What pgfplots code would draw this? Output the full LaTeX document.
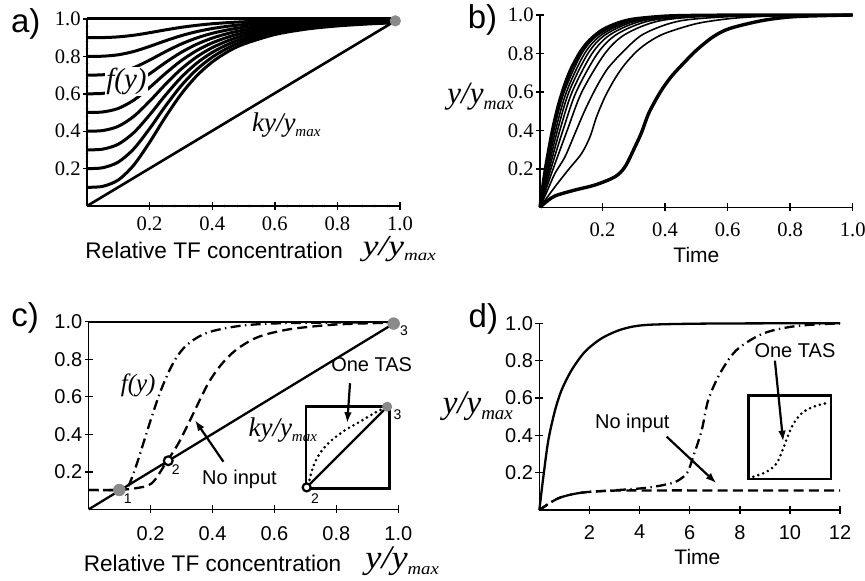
\documentclass[border=0pt]{standalone}
\usepackage{fontspec}
\setmainfont{Liberation Sans}
\newfontfamily\serif{Liberation Serif}
\usepackage{pgfplots}
\usepackage{pgfplotstable}
\pgfplotsset{compat=1.18}
\usetikzlibrary{arrows.meta}
\definecolor{dotgray}{RGB}{138,138,138}
\newcommand{\fs}[1]{\fontsize{#1}{#1}\selectfont}
\newcommand{\yratio}[4]{{\serif\itshape\fs{#1}#4\raisebox{-#3}{\fs{#2}max}}}

% panel a: f(y) for basal levels 0.1 ... 0.9
\pgfplotstableread{
x f1 f2 f3 f4 f5 f6 f7 f8 f9
0 0.1 0.2 0.3 0.4 0.5 0.6 0.7 0.8 0.9
0.05 .1051 .2046 .3040 .4034 .5029 .6023 .7017 .8011 .9006
0.1 .1392 .2349 .3305 .4262 .5218 .6174 .7131 .8087 .9044
0.15 .2200 .3066 .3933 .4800 .5667 .6533 .7400 .8267 .9133
0.2 .3404 .4137 .4870 .5603 .6336 .7068 .7801 .8534 .9267
0.25 .4742 .5326 .5911 .6495 .7079 .7663 .8247 .8832 .9416
0.3 .5964 .6413 .6861 .7310 .7758 .8206 .8655 .9103 .9552
0.35 .6953 .7291 .7630 .7968 .8307 .8646 .8984 .9323 .9661
0.4 .7701 .7957 .8212 .8468 .8723 .8978 .9234 .9489 .9745
0.45 .8253 .8447 .8641 .8835 .9030 .9224 .9418 .9612 .9806
0.5 .8655 .8805 .8954 .9104 .9253 .9402 .9552 .9701 .9851
0.6 .9169 .9262 .9354 .9446 .9539 .9631 .9723 .9815 .9908
0.7 .9458 .9518 .9579 .9639 .9699 .9759 .9819 .9880 .9940
0.8 .9630 .9671 .9712 .9753 .9795 .9836 .9877 .9918 .9959
0.9 .9737 .9766 .9796 .9825 .9854 .9883 .9912 .9942 .9971
0.985 .9798 .9820 .9843 .9865 .9888 .9910 .9933 .9955 .9978
}\tabA

\pgfplotsset{
  panel/.style={
    scale only axis, anchor=south west,
    axis x line=bottom, axis y line=left,
    axis line style={-, line width=0.7pt},
    xmin=0, ymin=0, ymax=1, clip=false,
    tick align=center, major tick length=4pt,
    every tick/.style={black, line width=0.7pt},
    /pgf/number format/assume math mode=true,
    ytick={0.2,0.4,0.6,0.8,1.0},
    yticklabel style={/pgf/number format/fixed, /pgf/number format/fixed zerofill, /pgf/number format/precision=1, inner sep=1pt},
  },
  unitx/.style={xmax=1, xtick={0.2,0.4,0.6,0.8,1.0},
    xticklabel style={/pgf/number format/fixed, /pgf/number format/fixed zerofill, /pgf/number format/precision=1}},
  serifticks/.style={tick label style={font=\serif\fs{10.3}}},
  sansticks/.style={tick label style={font=\fs{10}}},
  fcurve/.style={black, line width=1.5pt, smooth, mark=none},
  thinb/.style={black, line width=0.8pt, smooth, mark=none},
  thickb/.style={black, line width=1.7pt, smooth, mark=none},
  lc/.style={black, line width=1.15pt, mark=none},
  dotc/.style={black, line width=1.45pt, smooth, mark=none, line cap=round, dash pattern=on 0pt off 2.6pt},
  arr/.style={black, line width=1.1pt, mark=none, -{Latex[length=5.5pt,width=3.8pt]}},
  graydot/.style={only marks, mark=*, mark size=#1, mark options={draw=dotgray, fill=dotgray}},
  opendot/.style={only marks, mark=*, mark size=#1, mark options={draw=black, fill=white, line width=1.1pt}},
}

\begin{document}
\begin{tikzpicture}
\path[use as bounding box] (0,0) rectangle (432.5pt,290pt);

% ---------------- panel a ----------------
\begin{axis}[panel, unitx, serifticks, at={(43.5pt,187pt)}, width=156.5pt, height=93.5pt,
  minor x tick num=4, minor y tick num=4, minor tick length=1.6pt,
  every minor tick/.style={gray!35, line width=0.5pt},
  xticklabel style={yshift=0pt}]
\addplot[fcurve] coordinates {(0,1) (0.985,1)};
\addplot[fcurve] table[x=x,y=f1]{\tabA};
\addplot[fcurve] table[x=x,y=f2]{\tabA};
\addplot[fcurve] table[x=x,y=f3]{\tabA};
\addplot[fcurve] table[x=x,y=f4]{\tabA};
\addplot[fcurve] table[x=x,y=f5]{\tabA};
\addplot[fcurve] table[x=x,y=f6]{\tabA};
\addplot[fcurve] table[x=x,y=f7]{\tabA};
\addplot[fcurve] table[x=x,y=f8]{\tabA};
\addplot[fcurve] table[x=x,y=f9]{\tabA};
\addplot[black, line width=1.3pt, mark=none] coordinates {(0,0) (0.985,0.99)};
\addplot[graydot=2.6pt] coordinates {(0.985,0.99)};
\node[fill=white, inner sep=0.6pt] at (axis cs:0.126,0.665) {\serif\itshape\fs{14.5}f(y)};
\node[anchor=base west, inner sep=0pt] at (axis cs:0.526,0.397) {\yratio{13.5}{7.5}{2.5pt}{ky/y}};
\end{axis}

% ---------------- panel b ----------------
\begin{axis}[panel, unitx, serifticks, at={(270pt,186.35pt)}, width=156.35pt, height=96.15pt,
  xticklabel style={yshift=-2pt}]
\addplot[thickb] coordinates {(0,0) (0.015,0.022) (0.048,0.059) (0.112,0.09) (0.176,0.116) (0.24,0.159) (0.272,0.211) (0.304,0.315) (0.325,0.39) (0.348,0.49) (0.385,0.6) (0.42,0.68) (0.459,0.749) (0.501,0.818) (0.554,0.887) (0.607,0.93) (0.714,0.972) (0.82,0.992) (1,1)};
\addplot[thinb] coordinates {(0,0) (0.048,0.107) (0.09,0.194) (0.133,0.28) (0.16,0.367) (0.181,0.471) (0.208,0.575) (0.24,0.67) (0.272,0.745) (0.31,0.812) (0.35,0.862) (0.4,0.905) (0.5,0.955) (0.6,0.98) (0.7,0.992) (0.85,0.999) (1,1)};
\addplot[thinb] coordinates {(0,0) (0.027,0.1) (0.048,0.177) (0.08,0.263) (0.112,0.385) (0.144,0.506) (0.181,0.627) (0.213,0.714) (0.24,0.766) (0.26,0.8) (0.33,0.9) (0.45,0.97) (0.65,0.995) (0.85,1) (1,1)};
\addplot[thinb] coordinates {(0,0) (0.0206,0.1) (0.042,0.2) (0.087,0.4) (0.1338,0.6) (0.2077,0.8) (0.273,0.9) (0.383,0.97) (0.559,0.995) (0.85,1) (1,1)};
\addplot[thinb] coordinates {(0,0) (0.017,0.1) (0.0348,0.2) (0.0733,0.4) (0.1157,0.6) (0.1838,0.8) (0.246,0.9) (0.351,0.97) (0.516,0.995) (0.85,1) (1,1)};
\addplot[thinb] coordinates {(0,0) (0.0144,0.1) (0.0297,0.2) (0.0634,0.4) (0.1027,0.6) (0.1666,0.8) (0.2265,0.9) (0.328,0.97) (0.484,0.995) (0.85,1) (1,1)};
\addplot[thinb] coordinates {(0,0) (0.0124,0.1) (0.0257,0.2) (0.0558,0.4) (0.0926,0.6) (0.1533,0.8) (0.2115,0.9) (0.31,0.97) (0.46,0.995) (0.85,1) (1,1)};
\addplot[thinb] coordinates {(0,0) (0.0108,0.1) (0.0225,0.2) (0.0497,0.4) (0.0846,0.6) (0.1427,0.8) (0.1995,0.9) (0.296,0.97) (0.441,0.995) (0.85,1) (1,1)};
\addplot[thinb] coordinates {(0,0) (0.0094,0.1) (0.0198,0.2) (0.0444,0.4) (0.0775,0.6) (0.1335,0.8) (0.189,0.9) (0.284,0.97) (0.424,0.995) (0.85,1) (1,1)};
\addplot[thickb] coordinates {(0,0) (0.01,0.12) (0.02,0.226) (0.04,0.401) (0.06,0.537) (0.08,0.641) (0.1,0.722) (0.13,0.811) (0.16,0.871) (0.2,0.923) (0.25,0.959) (0.3,0.979) (0.4,0.994) (0.5,0.998) (0.7,1) (1,1)};
\end{axis}

% ---------------- panel c ----------------
\begin{axis}[panel, unitx, sansticks, at={(44.33pt,35.33pt)}, width=154.83pt, height=93.83pt,
  xticklabel style={yshift=-3pt}]
\addplot[lc] coordinates {(0,1) (0.985,1)};
\addplot[lc] coordinates {(0,0) (0.985,0.99)};
\addplot[lc, smooth, dash pattern=on 5pt off 2.6pt] coordinates {(0,0.103) (0.085,0.103) (0.15,0.112) (0.204,0.139) (0.252,0.254) (0.29,0.352) (0.333,0.494) (0.386,0.671) (0.43,0.775) (0.48,0.855) (0.55,0.92) (0.65,0.96) (0.8,0.985) (0.985,0.995)};
\addplot[lc, smooth, dash pattern=on 5pt off 2.2pt on 0.7pt off 2.2pt] coordinates {(0,0.103) (0.09,0.103) (0.115,0.113) (0.13,0.13) (0.155,0.24) (0.18,0.37) (0.205,0.5) (0.23,0.62) (0.255,0.72) (0.28,0.8) (0.31,0.865) (0.35,0.915) (0.4,0.95) (0.5,0.98) (0.65,0.993) (0.985,0.997)};
% inset
\addplot[black, line width=1.3pt, mark=none, line cap=rect] coordinates {(0.702,0.112) (0.971,0.112) (0.971,0.547) (0.702,0.547) (0.702,0.112)};
\addplot[lc] coordinates {(0.704,0.117) (0.964,0.547)};
\addplot[dotc] coordinates {(0.709,0.130) (0.725,0.227) (0.747,0.299) (0.779,0.360) (0.828,0.422) (0.876,0.467) (0.930,0.520) (0.962,0.544)};
\addplot[graydot=2.9pt] coordinates {(0.099,0.103) (0.985,0.99)};
\addplot[graydot=2.3pt] coordinates {(0.964,0.547)};
\addplot[opendot=2.2pt] coordinates {(0.257,0.259)};
\addplot[opendot=2pt] coordinates {(0.704,0.117)};
\addplot[arr] coordinates {(0.435,0.254) (0.343,0.476)};
\addplot[arr] coordinates {(0.844,0.672) (0.835,0.459)};
\node[font=\fs{7}] at (axis cs:0.126,0.059) {1};
\node[font=\fs{7}] at (axis cs:0.281,0.21) {2};
\node[font=\fs{7}] at (axis cs:1.018,0.952) {3};
\node[font=\fs{7}] at (axis cs:0.731,0.059) {2};
\node[font=\fs{7}] at (axis cs:0.997,0.503) {3};
\node at (axis cs:0.16,0.663) {\serif\itshape\fs{12.5}f(y)};
\node[anchor=base west, inner sep=0pt] at (axis cs:0.515,0.387) {\yratio{13.5}{7.5}{2.5pt}{ky/y}};
\node[font=\fs{10}] at (axis cs:0.487,0.16) {No input};
\node[font=\fs{10}] at (axis cs:0.914,0.769) {One TAS};
\end{axis}

% ---------------- panel d ----------------
\begin{axis}[panel, sansticks, at={(269.67pt,35pt)}, width=150.35pt, height=93.33pt,
  xmax=12, xtick={2,4,6,8,10,12}, xticklabel style={yshift=-2pt}]
\addplot[lc, smooth] coordinates {(0,0) (0.16,0.178) (0.36,0.375) (0.63,0.536) (0.89,0.643) (1.29,0.75) (1.82,0.848) (2.49,0.92) (3.29,0.968) (4.22,0.991) (6.2,0.998) (9,1) (12,1)};
\addplot[lc, smooth, dash pattern=on 5pt off 2.6pt] coordinates {(0,0) (0.76,0.063) (1.69,0.093) (3.0,0.104) (4.5,0.105) (8,0.105) (12,0.105)};
\addplot[lc, smooth, dash pattern=on 5pt off 2.2pt on 0.7pt off 2.2pt] coordinates {(0,0) (0.76,0.063) (1.69,0.093) (3.15,0.107) (4.22,0.118) (5.0,0.135) (5.5,0.155) (5.9,0.2) (6.14,0.286) (6.48,0.428) (6.74,0.589) (7.21,0.732) (7.87,0.857) (8.94,0.946) (10.27,0.986) (12,1.0)};
\addplot[black, line width=1.3pt, mark=none, line cap=rect] coordinates {(8.34,0.166) (11.64,0.166) (11.64,0.612) (8.34,0.612) (8.34,0.166)};
\addplot[dotc] coordinates {(8.54,0.178) (9.07,0.205) (9.47,0.250) (9.73,0.33) (9.93,0.40) (10.13,0.46) (10.47,0.518) (10.93,0.553) (11.53,0.575)};
\addplot[arr] coordinates {(5.08,0.393) (7.07,0.143)};
\addplot[arr] coordinates {(9.40,0.80) (9.73,0.366)};
\node[font=\fs{10}] at (axis cs:3.71,0.464) {No input};
\node[font=\fs{10}] at (axis cs:10.2,0.853) {One TAS};
\end{axis}

% ---------------- labels ----------------
\node at (12.9pt,277.9pt) {\fs{16.5}a)};
\node at (241.25pt,280pt) {\fs{16.5}b)};
\node at (12.5pt,131.25pt) {\fs{16.5}c)};
\node at (241.7pt,130.4pt) {\fs{16.5}d)};
\node[anchor=base west, inner sep=0pt] at (42.5pt,160.75pt) {\fs{11.3}Relative TF concentration};
\node[anchor=base west, inner sep=0pt] at (181.2pt,162.5pt) {\scalebox{1.22}[1]{\yratio{14.5}{7.8}{2.8pt}{y/y}}};
\node[anchor=base west, inner sep=0pt] at (41.7pt,4.2pt) {\fs{11.3}Relative TF concentration};
\node[anchor=base west, inner sep=0pt] at (182.5pt,5.6pt) {\scalebox{1.1}[1]{\yratio{16.5}{8.5}{3pt}{y/y}}};
\node at (348.2pt,162.5pt) {\fs{10.5}Time};
\node at (348.7pt,11.7pt) {\fs{10.5}Time};
\node[anchor=base west, inner sep=0pt] at (223.5pt,238.5pt) {\yratio{15.5}{9}{3pt}{y/y}};
\node[anchor=base west, inner sep=0pt] at (221.2pt,83.5pt) {\yratio{16.5}{9.5}{3pt}{y/y}};
\end{tikzpicture}
\end{document}
